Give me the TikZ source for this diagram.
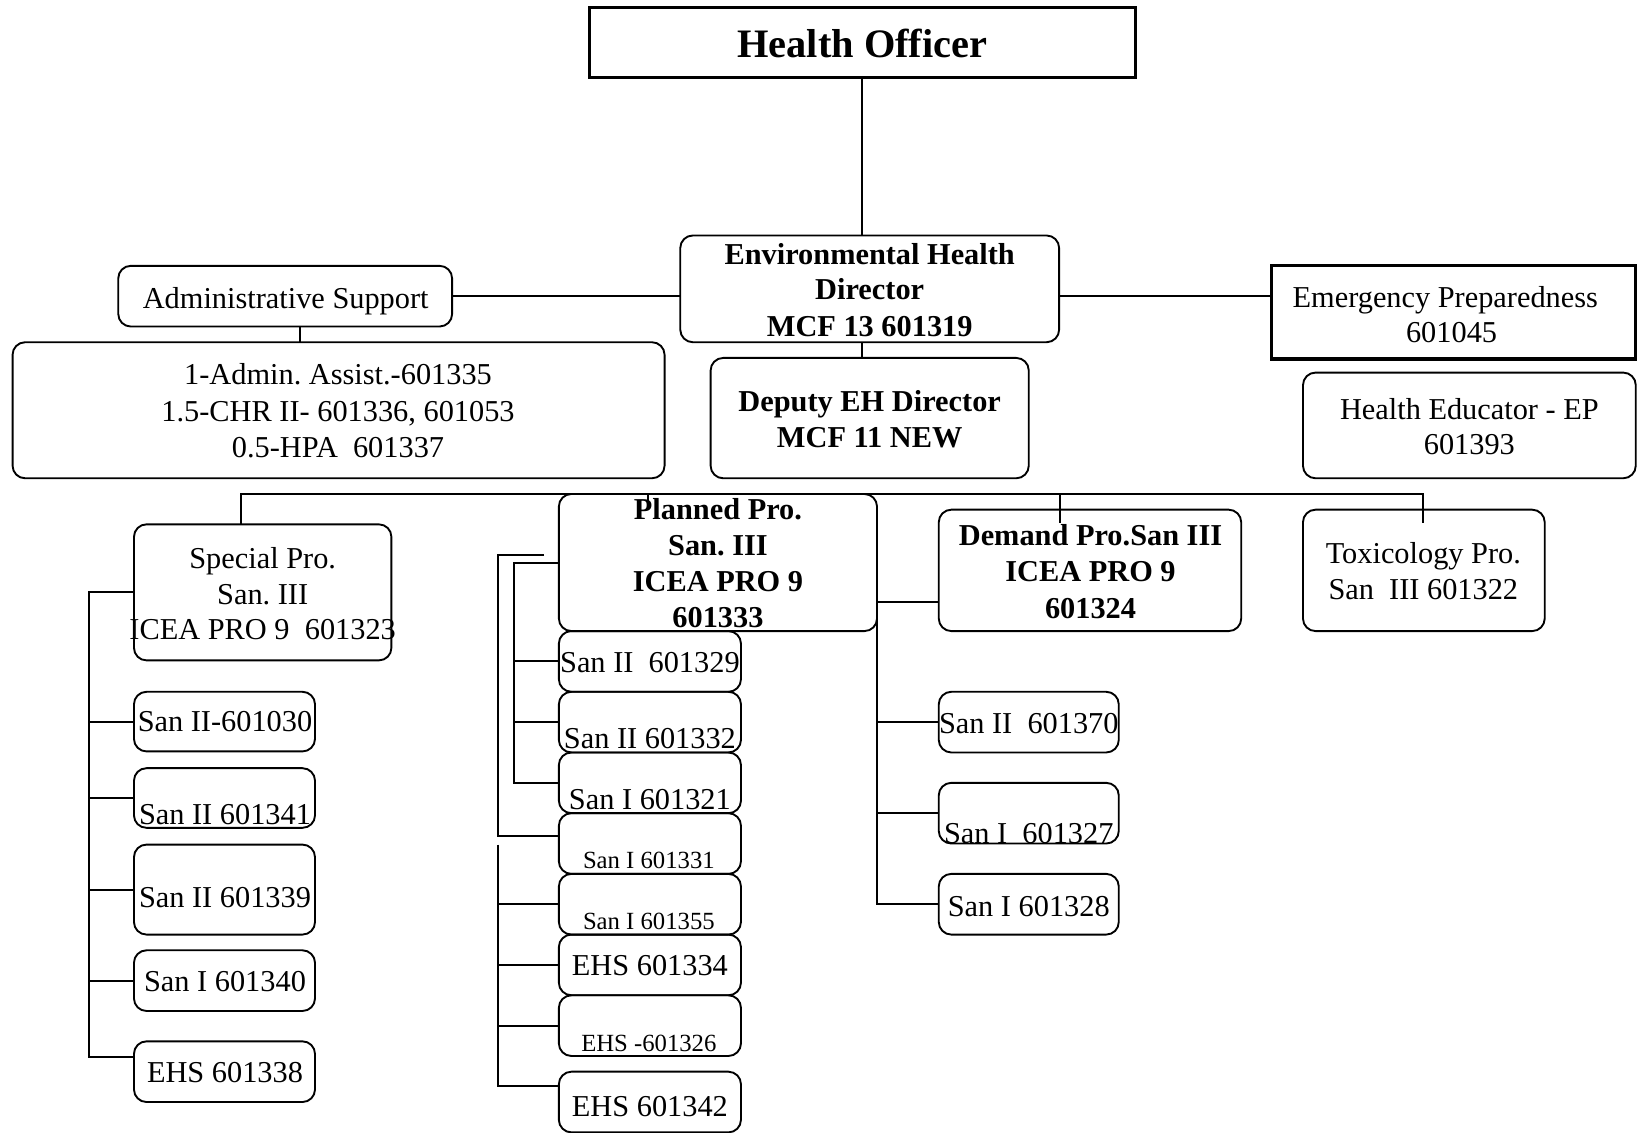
\documentclass[tikz,border=0pt]{standalone}
\usepackage{fontspec}
\setmainfont{Liberation Serif}
\frenchspacing
\begin{document}
\begin{tikzpicture}[x=0.5pt,y=-0.5pt]
\tikzset{
 rbox/.style={draw, line width=0.9pt, rounded corners=6pt, inner sep=0pt, outer sep=0pt},
 sbox/.style={draw, line width=1.5pt, inner sep=0pt, outer sep=0pt},
 conn/.style={line width=0.9pt},
 tn/.style={inner sep=0pt, anchor=base, font=\fontsize{14.5}{17.4}\selectfont},
 tb/.style={inner sep=0pt, anchor=base, font=\fontsize{14.5}{17.4}\selectfont\bfseries},
 ts/.style={inner sep=0pt, anchor=base, font=\fontsize{11.8}{14}\selectfont},
 th/.style={inner sep=0pt, anchor=base, font=\fontsize{19.3}{23}\selectfont\bfseries},
}
\newcommand\mybox[6]{\node[#1, minimum width={(#5-#3)*0.5pt}, minimum height={(#6-#4)*0.5pt}] (#2) at ({(#3+#5)/2},{(#4+#6)/2}) {};}
\useasboundingbox (0,0) rectangle (1568,1082);
% boxes
\mybox{sbox}{HO}{563}{7}{1085}{74}
\mybox{rbox}{EHD}{650}{225}{1012}{327}
\mybox{rbox}{Admin}{113}{254}{432}{312}
\mybox{sbox}{EP}{1215}{254}{1563}{343}
\mybox{rbox}{Staff}{12}{327}{635}{457}
\mybox{rbox}{Deputy}{679}{342}{983}{457}
\mybox{rbox}{HEd}{1245}{356}{1563}{457}
\mybox{rbox}{Special}{128}{501}{374}{631}
\mybox{rbox}{Planned}{534}{472}{838}{603}
\mybox{rbox}{Demand}{897}{487}{1186}{603}
\mybox{rbox}{Tox}{1245}{487}{1476}{603}
\mybox{rbox}{s1}{128}{661}{301}{718}
\mybox{rbox}{s2}{128}{734}{301}{791}
\mybox{rbox}{s3}{128}{807}{301}{893}
\mybox{rbox}{s4}{128}{908}{301}{966}
\mybox{rbox}{s5}{128}{995}{301}{1053}
\mybox{rbox}{p1}{534}{603}{708}{661}
\mybox{rbox}{p2}{534}{661}{708}{719}
\mybox{rbox}{p3}{534}{719}{708}{777}
\mybox{rbox}{p4}{534}{777}{708}{835}
\mybox{rbox}{p5}{534}{835}{708}{893}
\mybox{rbox}{p6}{534}{893}{708}{951}
\mybox{rbox}{p7}{534}{951}{708}{1009}
\mybox{rbox}{p8}{534}{1024}{708}{1082}
\mybox{rbox}{d1}{897}{661}{1069}{719}
\mybox{rbox}{d2}{897}{748}{1069}{806}
\mybox{rbox}{d3}{897}{835}{1069}{893}
% connectors
\draw[conn] (HO.south -| 824,0) -- (824,225);
\draw[conn] (Admin.east) -- (Admin.east -| EHD.west);
\draw[conn] (EHD.east |- 0,283) -- (EP.west |- 0,283);
\draw[conn] (287,312) -- (287,327);
\draw[conn] (824,327) -- (824,342);
\coordinate (busL) at (230,472);
\coordinate (busR) at (1360,472);
\draw[conn] (Special.north -| busL) -- (busL) -- (busR) -- (1360,500);
\draw[conn] (1013,472) -- (1013,500);
\draw[conn] (619,472) -- (619,479);
% special bracket
\draw[conn] (Special.west) -- (85,566) |- (s5.west |- 0,1010);
\foreach \n in {s1,s2,s3,s4} \draw[conn] (\n.west) -- (\n.west -| 85,0);
% planned brackets
\draw[conn] (Planned.west |- 0,538) -- (491,538) |- (p3.west);
\foreach \n in {p1,p2} \draw[conn] (\n.west) -- (\n.west -| 491,0);
\coordinate (oTop) at (520,530);
\draw[conn] (oTop) -- (476,530) |- (p4.west |- 0,799);
\draw[conn] (476,807) |- (p8.west |- 0,1038);
\foreach \n in {p5,p6,p7} \draw[conn] (\n.west) -- (\n.west -| 476,0);
% demand bracket
\draw[conn] (Demand.west |- 0,575) -- (838,575) |- (d3.west);
\foreach \n in {d1,d2} \draw[conn] (\n.west) -- (\n.west -| 838,0);
% texts
\node[th] (tHO) at (824,55) {Health Officer};
\node[tb] (tE1) at (831,252.5) {Environmental Health};
\node[tb] (tE2) at (831,286.5) {Director};
\node[tb] (tE3) at (831,321.5) {MCF 13 601319};
\node[tn] (tA) at (273,294.5) {Administrative Support};
\node[tn] (tEP1) at (1381,293.5) {Emergency Preparedness};
\node[tn] (tEP2) at (1387,327.5) {601045};
\node[tn] (tS1) at (323,367.5) {1-Admin. Assist.-601335};
\node[tn] (tS2) at (323,402.5) {1.5-CHR II- 601336, 601053};
\node[tn] (tS3) at (323,437.5) {0.5-HPA~~601337};
\node[tb] (tD1) at (831,393.5) {Deputy EH Director};
\node[tb] (tD2) at (831,427.5) {MCF 11 NEW};
\node[tn] (tH1) at (1404,400.5) {Health Educator - EP};
\node[tn] (tH2) at (1404,434.5) {601393};
\node[tn] (tSp1) at (251,543.5) {Special Pro.};
\node[tn] (tSp2) at (251,577.5) {San. III};
\node[tn] (tSp3) at (251,611.5) {ICEA PRO 9~~601323};
\node[tb] (tP1) at (686,496.5) {Planned Pro.};
\node[tb] (tP2) at (686,530.5) {San. III};
\node[tb] (tP3) at (686,565.5) {ICEA PRO 9};
\node[tb] (tP4) at (686,599.5) {601333};
\node[tb] (tDm1) at (1042,521.5) {Demand Pro.San III};
\node[tb] (tDm2) at (1042,555.5) {ICEA PRO 9};
\node[tb] (tDm3) at (1042,590.5) {601324};
\node[tn] (tT1) at (1360,538.5) {Toxicology Pro.};
\node[tn] (tT2) at (1360,572.5) {San~~III 601322};
\node[tn] (ts1) at (215,698.5) {San II-601030};
\node[tn] (ts2) at (215,787.5) {San II 601341};
\node[tn] (ts3) at (215,867.5) {San II 601339};
\node[tn] (ts4) at (215,947.5) {San I 601340};
\node[tn] (ts5) at (215,1034.5) {EHS 601338};
\node[tn] (tp1) at (621,642.5) {San II~~601329};
\node[tn] (tp2) at (621,715.5) {San II 601332};
\node[tn] (tp3) at (621,773.5) {San I 601321};
\node[ts] (tp4) at (620,829.8) {San I 601331};
\node[ts] (tp5) at (620,887.8) {San I 601355};
\node[tn] (tp6) at (621,932.5) {EHS 601334};
\node[ts] (tp7) at (620,1004.8) {EHS -601326};
\node[tn] (tp8) at (621,1066.5) {EHS 601342};
\node[tn] (td1) at (983,700.5) {San II~~601370};
\node[tn] (td2) at (983,805.5) {San I~~601327};
\node[tn] (td3) at (983,875.5) {San I 601328};
\end{tikzpicture}
\end{document}
